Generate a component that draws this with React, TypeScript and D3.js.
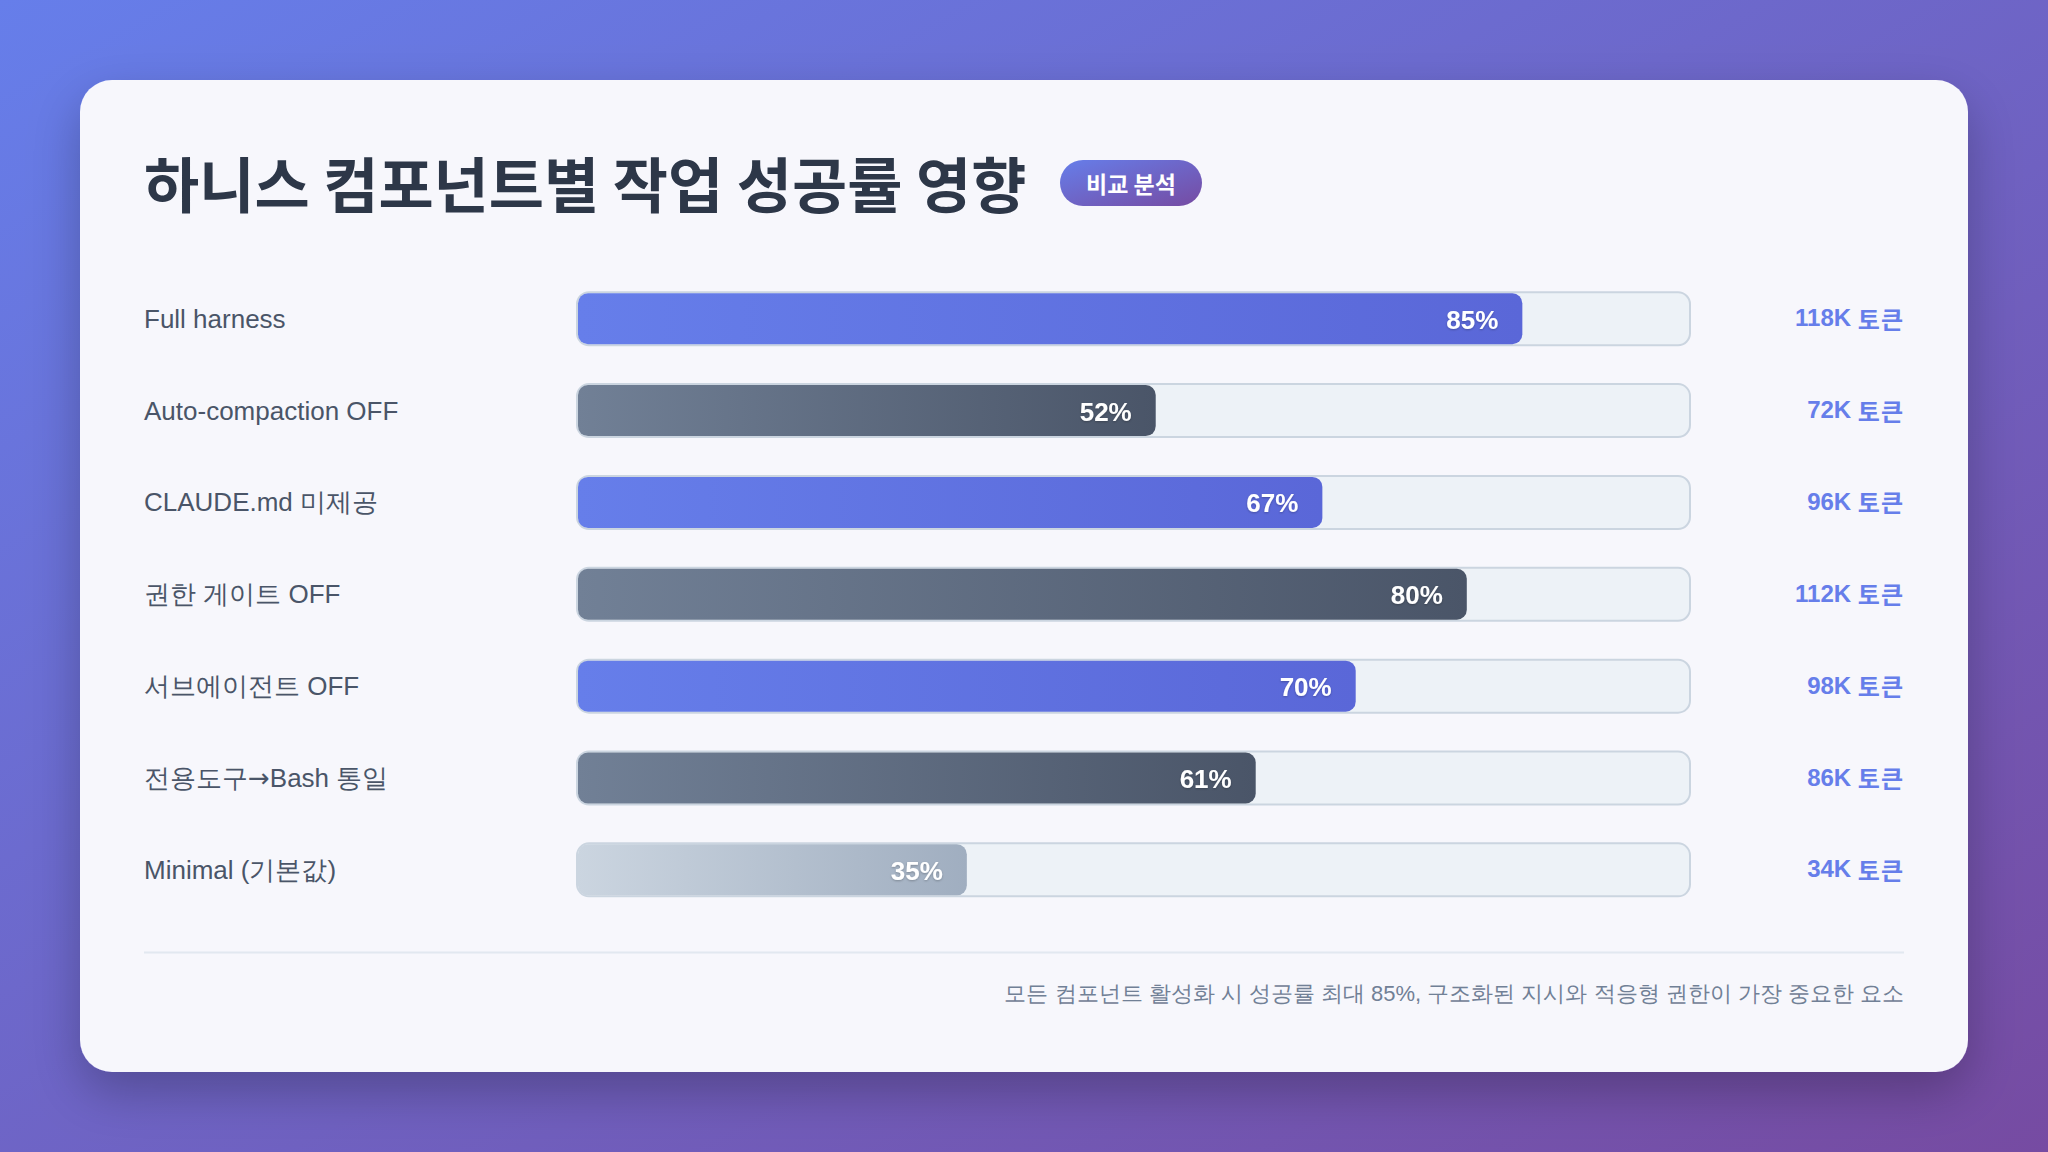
import React from "react";
import * as d3 from "d3";

const categories = [
  "Full harness",
  "Auto-compaction OFF",
  "CLAUDE.md 미제공",
  "권한 게이트 OFF",
  "서브에이전트 OFF",
  "전용도구→Bash 통일",
  "Minimal (기본값)",
];
const successRates = [85, 52, 67, 80, 70, 61, 35];
const tokenValues = ["118K", "72K", "96K", "112K", "98K", "86K", "34K"];
const tokenUnit = "토큰";
const barKinds = ["blue", "dark", "blue", "dark", "blue", "dark", "light"];

const titleText = "하니스 컴포넌트별 작업 성공률 영향";
const badgeText = "비교 분석";
const footerText = "모든 컴포넌트 활성화 시 성공률 최대 85%, 구조화된 지시와 적응형 권한이 가장 중요한 요소";

const W = 2048;
const H = 1152;
const FONT = "'Liberation Sans', Arial, sans-serif";
const KR = "'Noto Sans CJK KR', sans-serif";

function renderLabel(s: string) {
  const parts = s.split("→");
  if (parts.length === 1) return s;
  return (
    <>
      {parts[0]}
      <tspan fontFamily="'DejaVu Sans'">→</tspan>
      {parts[1]}
    </>
  );
}

export default function App() {
  const trackX0 = 576;
  const trackX1 = 1691;
  const trackH = 55;
  const inset = 2;

  const y = d3.scaleBand<string>().domain(categories).range([272.8, 915.8]).paddingInner(0).paddingOuter(0);
  const x = d3.scaleLinear().domain([0, 100]).range([trackX0 + inset, trackX1 - inset]);

  const gradIds: Record<string, string> = { blue: "gBlue", dark: "gDark", light: "gLight" };

  return (
    <svg width={W} height={H} style={{ position: "absolute", left: 0, top: 0, display: "block" }} fontFamily={FONT}>
      <defs>
        <linearGradient id="bg" x1="0" y1="0" x2="1" y2="1">
          <stop offset="0" stopColor="#667eea" />
          <stop offset="1" stopColor="#764ba2" />
        </linearGradient>
        <linearGradient id="badge" x1="0" y1="0" x2="1" y2="1">
          <stop offset="0" stopColor="#667eea" />
          <stop offset="1" stopColor="#764ba2" />
        </linearGradient>
        <linearGradient id="gBlue" x1="0" y1="0" x2="1" y2="0">
          <stop offset="0" stopColor="#667eea" />
          <stop offset="1" stopColor="#5a67d8" />
        </linearGradient>
        <linearGradient id="gDark" x1="0" y1="0" x2="1" y2="0">
          <stop offset="0" stopColor="#718096" />
          <stop offset="1" stopColor="#4a5568" />
        </linearGradient>
        <linearGradient id="gLight" x1="0" y1="0" x2="1" y2="0">
          <stop offset="0" stopColor="#cbd5e0" />
          <stop offset="1" stopColor="#a0aec0" />
        </linearGradient>
        <filter id="cardShadow" x="-10%" y="-10%" width="120%" height="130%">
          <feDropShadow dx="0" dy="20" stdDeviation="25" floodColor="#000" floodOpacity="0.25" />
        </filter>
        <filter id="txtShadow" x="-20%" y="-20%" width="140%" height="160%">
          <feDropShadow dx="0" dy="1" stdDeviation="1" floodColor="#000" floodOpacity="0.25" />
        </filter>
      </defs>

      <rect x={0} y={0} width={W} height={H} fill="url(#bg)" />
      <rect x={80} y={80} width={1888} height={992} rx={32} fill="#f7f7fc" filter="url(#cardShadow)" />

      <text x={144} y={181} dominantBaseline="central" fontFamily={KR} fontSize={60} fontWeight={700} fill="#2d3748">
        {titleText}
      </text>
      <rect x={1060} y={160} width={142} height={46} rx={23} fill="url(#badge)" />
      <text
        x={1131}
        y={182.5}
        textAnchor="middle"
        dominantBaseline="central"
        fontFamily={KR}
        fontSize={23}
        fontWeight={700}
        fill="#ffffff"
      >
        {badgeText}
      </text>

      {categories.map((c, i) => {
        const cy = (y(c) as number) + y.bandwidth() / 2;
        const top = cy - trackH / 2;
        const xEnd = x(successRates[i]);
        return (
          <g key={c}>
            <text x={144} y={cy} dominantBaseline="central" fontSize={26} fill="#4a5568">
              {renderLabel(c)}
            </text>
            <rect
              x={trackX0 + 1}
              y={top + 1}
              width={trackX1 - trackX0 - 2}
              height={trackH - 2}
              rx={12}
              fill="#edf2f7"
              stroke="#cbd5e0"
              strokeWidth={2}
            />
            <rect
              x={x(0)}
              y={top + inset}
              width={xEnd - x(0)}
              height={trackH - inset * 2}
              rx={10}
              fill={`url(#${gradIds[barKinds[i]]})`}
            />
            <text
              x={xEnd - 24}
              y={cy + 1}
              textAnchor="end"
              dominantBaseline="central"
              fontSize={26}
              fontWeight={700}
              fill="#ffffff"
              filter="url(#txtShadow)"
            >
              {successRates[i]}%
            </text>
            <text x={1904} y={cy - 1} textAnchor="end" dominantBaseline="central" fontSize={24} fontWeight={700} fill="#667eea">
              {tokenValues[i]}{" "}
              <tspan fontFamily={KR} letterSpacing={1}>{tokenUnit}</tspan>
            </text>
          </g>
        );
      })}

      <line x1={144} x2={1904} y1={952.5} y2={952.5} stroke="#e2e8f0" strokeWidth={2} />
      <text x={1904} y={993} textAnchor="end" dominantBaseline="central" fontSize={22} fill="#718096">
        {footerText}
      </text>
    </svg>
  );
}
